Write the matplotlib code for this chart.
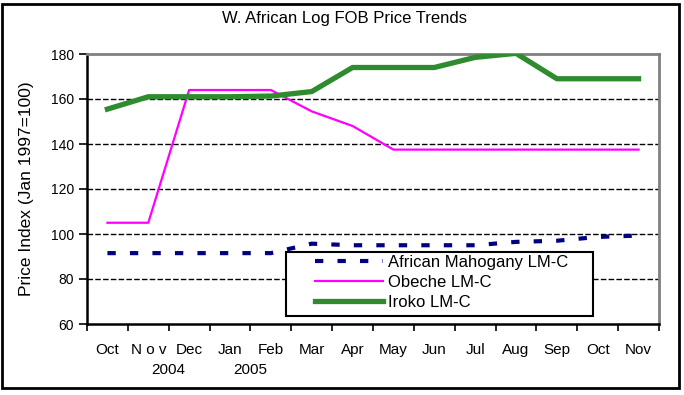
import numpy as np
import matplotlib
matplotlib.use('Agg')
import matplotlib.pyplot as plt
from matplotlib.patches import Rectangle

plt.rcParams['font.family'] = ['Liberation Sans', 'DejaVu Sans']

months = ['Oct', 'N o v', 'Dec', 'Jan', 'Feb', 'Mar', 'Apr', 'May', 'Jun', 'Jul', 'Aug', 'Sep', 'Oct', 'Nov']
years = ['2004', '2005']
year_pos = [1.5, 3.5]   # category boundaries where the year labels sit

mahogany = [91.5, 91.5, 91.5, 91.5, 91.5, 95.7, 95, 95, 95, 95, 96.5, 97, 98.7, 99.3]
obeche = [105, 105, 164, 164, 164, 154.5, 148, 137.5, 137.5, 137.5, 137.5, 137.5, 137.5, 137.5]
iroko = [155.5, 161, 161, 161, 161.3, 163.3, 174, 174, 174, 178.5, 180.3, 169, 169, 169]

fig = plt.figure(figsize=(6.84, 3.95), dpi=100)
ax = fig.add_axes([87/684, 1-324/395, 572/684, 270/395])

x = np.arange(len(months))
ax.plot(x, mahogany, color='#000080', lw=3.0, dashes=(2.0, 3.4), solid_capstyle='butt',
		label='African Mahogany LM-C', zorder=3)
ax.plot(x, obeche, color='#FF00FF', lw=1.6, label='Obeche LM-C', zorder=3)
ax.plot(x, iroko, color='#2E8B2E', lw=3.8, label='Iroko LM-C', zorder=3)

ax.set_xlim(-0.5, len(months)-0.5)
ax.set_ylim(60, 180)
ax.set_yticks(np.arange(60, 181, 20))
ax.tick_params(axis='y', direction='out', length=5.5, width=1.2, labelsize=10, pad=4)
for yv in range(80, 180, 20):
	ax.axhline(yv, color='black', lw=1.0, dashes=(4, 1.6), zorder=1)

ax.set_xticks(x)
ax.set_xticklabels(months, fontsize=11)
ax.tick_params(axis='x', which='major', length=0, pad=14)
ax.set_xticks(np.arange(-0.5, len(months), 1), minor=True)
ax.tick_params(axis='x', which='minor', direction='out', length=5, width=1.2)
for yr, p in zip(years, year_pos):
	ax.text(p, -0.17, yr, transform=ax.get_xaxis_transform(), ha='center', va='center', fontsize=11)

ax.spines['left'].set_linewidth(1.8)
ax.spines['bottom'].set_linewidth(1.8)
ax.spines['top'].set_color('#808080')
ax.spines['right'].set_color('#808080')
ax.spines['top'].set_linewidth(2)
ax.spines['right'].set_linewidth(2)

ax.set_ylabel('Price Index (Jan 1997=100)', fontsize=12.5, labelpad=12)
fig.text(344/684, 1-18/395, 'W. African Log FOB Price Trends', ha='center', va='center', fontsize=12)

# legend box drawn separately so the padding can match
ax.add_patch(Rectangle((0.348, 0.03), 0.537, 0.237, transform=ax.transAxes,
					   facecolor='white', edgecolor='black', lw=1.5, zorder=4))
leg = ax.legend(loc='upper left', bbox_to_anchor=(0.399, 0.255), frameon=False, fontsize=12,
				borderpad=0, borderaxespad=0, handlelength=4.05, handletextpad=0.3, labelspacing=0.3)
leg.set_zorder(5)

fig.patches.append(Rectangle((0.003, 0.018), 0.989, 0.973, transform=fig.transFigure,
							 fill=False, edgecolor='black', lw=2))

fig.savefig('out.png', dpi=100)
